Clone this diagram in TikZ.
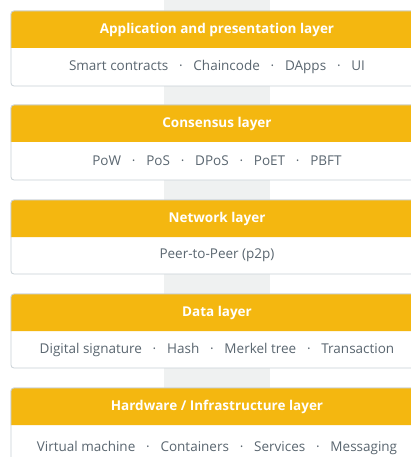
\documentclass[tikz,border=0pt]{standalone}
\usepackage{fontspec}
\setmainfont{Open Sans}
\usetikzlibrary{positioning}
\definecolor{hdr}{HTML}{F4B710}
\definecolor{bord}{HTML}{C9D1D7}
\definecolor{txt}{HTML}{5A6670}
\definecolor{strip}{HTML}{EFF1F1}
\tikzset{
  x=1pt, y=1pt,
  boxframe/.style={draw=bord, line width=0.8pt, fill=white, rounded corners=3pt},
  hdrfill/.style={fill=hdr},
  hdrtext/.style={font=\fontsize{13.5}{16}\selectfont\bfseries, text=white, anchor=center, inner sep=0pt},
  bodytext/.style={font=\fontsize{13.5}{16}\selectfont, text=txt, anchor=center, inner sep=0pt},
}
\newcommand\sep{\hspace{0.8em}·\hspace{0.8em}}
\newcommand\mklayer[5]{% #1 name, #2 top y, #3 bottom y, #4 title, #5 body
  \pgfmathsetmacro\hb{#2-37}
  \pgfmathsetmacro\hm{(#2+\hb)/2}
  \pgfmathsetmacro\bm{(\hb+#3)/2}
  \draw[boxframe] (11,#2) rectangle (423,#3);
  \fill[hdrfill, rounded corners=3pt] (11,\hb) -- (11,#2) -- (423,#2) [sharp corners] -- (423,\hb) -- cycle;
  \draw[bord, line width=0.8pt, rounded corners=3pt] (11,\hb) -- (11,#2) -- (423,#2) -- (423,\hb);
  \node[hdrtext] (#1h) at (217,\hm) {#4};
  \node[bodytext] (#1b) at (217,\bm) {#5};
}
\begin{document}
\begin{tikzpicture}
\useasboundingbox (0,0) rectangle (411,-457);
\clip (0,0) rectangle (411,-457);
\fill[white] (0,0) rectangle (411,-457);
\fill[strip] (164,0) rectangle (270,-457);
\mklayer{app}{-11}{-86}{Application and presentation layer}{Smart contracts\sep Chaincode\sep DApps\sep UI}
\mklayer{con}{-105}{-180}{Consensus layer}{PoW\sep PoS\sep DPoS\sep PoET\sep PBFT}
\mklayer{net}{-200}{-274}{Network layer}{Peer-to-Peer (p2p)}
\mklayer{dat}{-294}{-368}{Data layer}{Digital signature\sep Hash\sep Merkel tree\sep Transaction}
\mklayer{hw}{-388}{-470}{Hardware / Infrastructure layer}{Virtual machine\sep Containers\sep Services\sep Messaging}
\end{tikzpicture}
\end{document}
